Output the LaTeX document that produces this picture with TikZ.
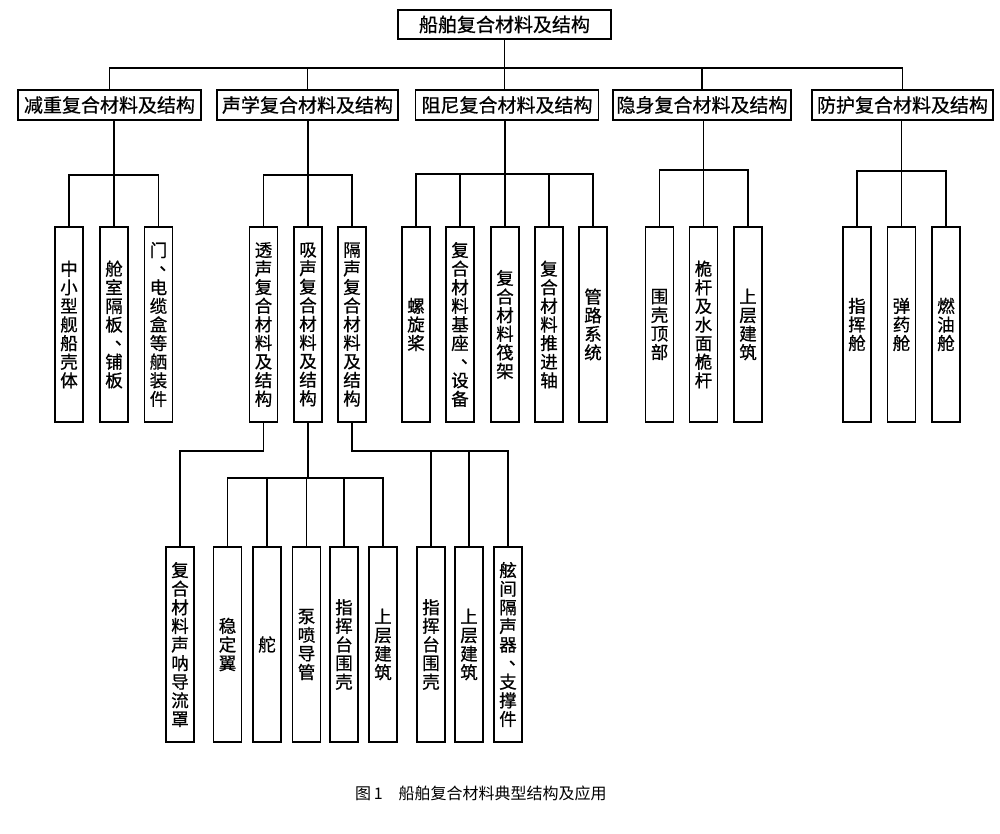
\documentclass[tikz,border=0pt]{standalone}
\usepackage{fontspec}
\newfontfamily\cjk{Noto Sans CJK SC}
\newfontfamily\cjkb{Noto Sans CJK SC}[FakeBold=0.7]
\newcommand\vcomma{\makebox[1em][l]{\hspace{0.55em}\raisebox{0.3em}[0pt][0pt]{、}}}
\begin{document}
\begin{tikzpicture}[x=1pt,y=-1pt,
  hb/.style={draw, line width=1.6pt, minimum height=30pt, inner sep=0pt, font=\cjkb\fontsize{19}{19}\selectfont},
  vb/.style={draw, line width=1.6pt, minimum width=28pt, minimum height=195pt, inner sep=0pt, align=center, font=\cjkb\fontsize{17.5}{18.6}\selectfont},
  ln/.style={line width=1.6pt}]
\useasboundingbox (0,0) rectangle (1000,834);
\fill[white] (0,0) rectangle (1000,834);
% level 1
\node[hb, minimum width=213pt, minimum height=29pt] (top) at (504.5,24.5) {船舶复合材料及结构};
% level 2
\node[hb, minimum width=183pt] (A) at (109.5,105) {减重复合材料及结构};
\node[hb, minimum width=181pt] (B) at (307.5,105) {声学复合材料及结构};
\node[hb, minimum width=183pt] (C) at (507,105) {阻尼复合材料及结构};
\node[hb, minimum width=178pt] (D) at (702,105) {隐身复合材料及结构};
\node[hb, minimum width=181pt] (E) at (902.5,105) {防护复合材料及结构};
% level 3
\node[vb] (a1) at (69,324.5) {中\\小\\型\\舰\\船\\壳\\体};
\node[vb] (a2) at (114,324.5) {舱\\室\\隔\\板\\\vcomma\\铺\\板};
\node[vb] (a3) at (158.5,324.5) {门\\\vcomma\\电\\缆\\盒\\等\\舾\\装\\件};
\node[vb] (b1) at (263.5,324.5) {透\\声\\复\\合\\材\\料\\及\\结\\构};
\node[vb] (b2) at (308,324.5) {吸\\声\\复\\合\\材\\料\\及\\结\\构};
\node[vb] (b3) at (352,324.5) {隔\\声\\复\\合\\材\\料\\及\\结\\构};
\node[vb] (c1) at (416,324.5) {螺\\旋\\桨};
\node[vb] (c2) at (460,324.5) {复\\合\\材\\料\\基\\座\\\vcomma\\设\\备};
\node[vb] (c3) at (505,324.5) {复\\合\\材\\料\\筏\\架};
\node[vb] (c4) at (549,324.5) {复\\合\\材\\料\\推\\进\\轴};
\node[vb] (c5) at (593,324.5) {管\\路\\系\\统};
\node[vb] (d1) at (659.5,324.5) {围\\壳\\顶\\部};
\node[vb] (d2) at (703.5,324.5) {桅\\杆\\及\\水\\面\\桅\\杆};
\node[vb] (d3) at (748,324.5) {上\\层\\建\\筑};
\node[vb] (e1) at (857,324.5) {指\\挥\\舱};
\node[vb] (e2) at (901.5,324.5) {弹\\药\\舱};
\node[vb] (e3) at (946,324.5) {燃\\油\\舱};
% level 4
\node[vb] (f1) at (180,644.5) {复\\合\\材\\料\\声\\呐\\导\\流\\罩};
\node[vb] (f2) at (227.5,644.5) {稳\\定\\翼};
\node[vb] (f3) at (267,644.5) {舵};
\node[vb] (f4) at (306.5,644.5) {泵\\喷\\导\\管};
\node[vb] (f5) at (344,644.5) {指\\挥\\台\\围\\壳};
\node[vb] (f6) at (383,644.5) {上\\层\\建\\筑};
\node[vb] (f7) at (431,644.5) {指\\挥\\台\\围\\壳};
\node[vb] (f8) at (469,644.5) {上\\层\\建\\筑};
\node[vb] (f9) at (508,644.5) {舷\\间\\隔\\声\\器\\\vcomma\\支\\撑\\件};
% bus levels
\coordinate (y1) at (0,68);
\coordinate (yA) at (0,175);
\coordinate (yB) at (0,175);
\coordinate (yC) at (0,174);
\coordinate (yD) at (0,170);
\coordinate (yE) at (0,171);
\coordinate (yT) at (0,451);
\coordinate (yS) at (0,478);
% level 1 -> 2
\draw[ln] (top.south) -- (top.south |- C.north);
\draw[ln] (A.north) |- (top.south |- y1) -| (E.north);
\draw[ln] (B.north) -- (B.north |- y1);
\draw[ln] (D.north) -- (D.north |- y1);
% A group
\draw[ln] (a2.north) -- (a2.north |- A.south);
\draw[ln] (a1.north) |- (a2.north |- yA) -| (a3.north);
% B group
\draw[ln] (b2.north) -- (b2.north |- B.south);
\draw[ln] (b1.north) |- (b2.north |- yB) -| (b3.north);
% C group
\draw[ln] (c3.north) -- (c3.north |- C.south);
\draw[ln] (c1.north) |- (c3.north |- yC) -| (c5.north);
\draw[ln] (c2.north) -- (c2.north |- yC);
\draw[ln] (c4.north) -- (c4.north |- yC);
% D group
\draw[ln] (d2.north) -- (d2.north |- D.south);
\draw[ln] (d1.north) |- (d2.north |- yD) -| (d3.north);
% E group
\draw[ln] (e2.north) -- (e2.north |- E.south);
\draw[ln] (e1.north) |- (e2.north |- yE) -| (e3.north);
% level 3 -> 4
\draw[ln] (b1.south) -- (b1.south |- yT) -| (f1.north);
\draw[ln] (b2.south) -- (b2.south |- yS);
\draw[ln] (f2.north) |- (b2.south |- yS) -| (f6.north);
\draw[ln] (f3.north) -- (f3.north |- yS);
\draw[ln] (f4.north) -- (f4.north |- yS);
\draw[ln] (f5.north) -- (f5.north |- yS);
\draw[ln] (b3.south) -- (b3.south |- yT) -| (f9.north);
\draw[ln] (f7.north) -- (f7.north |- yT);
\draw[ln] (f8.north) -- (f8.north |- yT);
% caption
\node[font=\cjk\fontsize{16}{16}\selectfont, anchor=west, inner sep=0pt] (cap) at (355,793) {图\,1\quad 船舶复合材料典型结构及应用};
\end{tikzpicture}
\end{document}
